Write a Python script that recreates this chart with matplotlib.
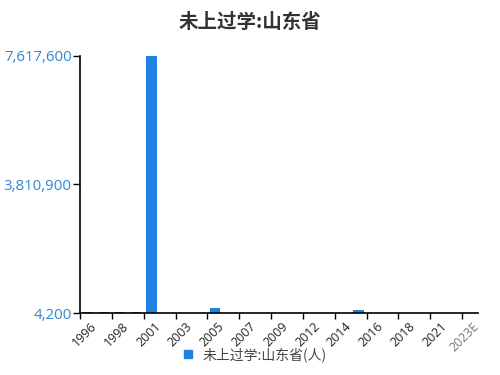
"""
未上过学:山东省 柱状图
"""
import matplotlib
matplotlib.use('Agg')
from matplotlib import pyplot as plt
from matplotlib.lines import Line2D

years = ['1996', '1997', '1998', '2000', '2001', '2002', '2003', '2004', '2005',
         '2006', '2007', '2008', '2009', '2011', '2012', '2013', '2014', '2015',
         '2016', '2017', '2018', '2020', '2021', '2022', '2023E']
values = [34000, 30000, 32000, 26000, 7617600, 12000, 10000, 9000, 150000,
          8000, 7000, 6000, 6000, 5000, 5000, 4800, 4600, 95000,
          4500, 4400, 4300, 4200, 4200, 4200, 4200]
y_ticks = [4200, 3810900, 7617600]
series_name = '未上过学:山东省(人)'

bar_color = '#1f82e3'
label_blue = '#2f86d6'
num_font = ['Open Sans', 'Noto Sans CJK SC']


def main():
    plt.rcParams['font.family'] = ['Noto Sans CJK SC', 'DejaVu Sans']
    fig = plt.figure(figsize=(5, 3.75), dpi=100)
    ax = fig.add_axes([0.16, 0.165, 0.796, 0.686])

    x = [i + 0.5 for i in range(len(years))]
    ax.bar(x, values, width=0.65, color=bar_color, bottom=0, zorder=2)

    ax.set_xlim(0, len(years))
    ax.set_ylim(y_ticks[0], y_ticks[-1])

    # y axis
    ax.set_yticks(y_ticks)
    ax.set_yticklabels([f'{v:,}' for v in y_ticks], color=label_blue, fontsize=10.8,
                       family=num_font)
    ax.tick_params(axis='y', length=5, width=1, pad=1)

    # x axis: ticks at every other category boundary, labels at centres
    ax.set_xticks(range(0, len(years), 2))
    ax.set_xticklabels([])
    ax.tick_params(axis='x', length=4, width=1)
    for i in range(0, len(years), 2):
        col = '#777777' if years[i].endswith('E') else '#222222'
        ax.text(i + 0.65, -0.025, years[i], transform=ax.get_xaxis_transform(),
                rotation=45, ha='right', va='top', rotation_mode='anchor',
                fontsize=9, color=col, family=num_font)

    for s in ['top', 'right']:
        ax.spines[s].set_visible(False)
    ax.spines['left'].set_linewidth(1.2)
    ax.spines['bottom'].set_linewidth(1.2)

    fig.suptitle('未上过学:山东省', y=0.965, fontsize=14, fontweight='bold', color='#333333')

    handle = Line2D([], [], marker='s', color=bar_color, linestyle='none', markersize=6)
    fig.legend([handle], [series_name], loc='center', bbox_to_anchor=(0.5, 0.055),
               frameon=False, fontsize=10, handletextpad=0.05, labelcolor='#444444')

    fig.savefig('out.png', dpi=100)


if __name__ == '__main__':
    main()
